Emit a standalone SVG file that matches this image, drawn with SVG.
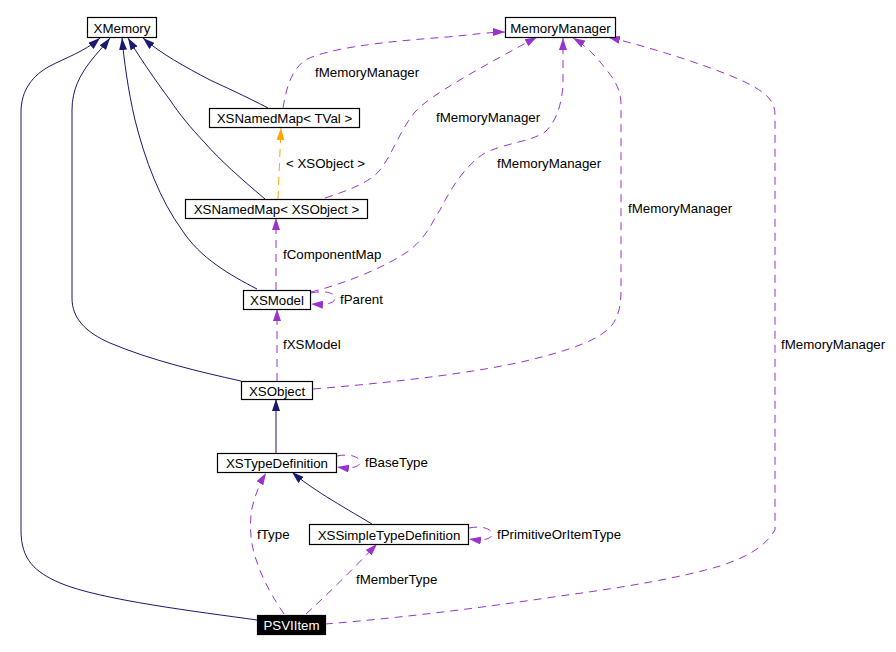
<svg xmlns="http://www.w3.org/2000/svg" width="896" height="652" viewBox="0 0 896 652">
<style>
text{font-family:"Liberation Sans",Arial,sans-serif;font-size:13.3px;fill:#000}
.node rect{fill:#fff;stroke:#000;stroke-width:1.2}
.node text{text-anchor:middle}
#PSVIItem rect{fill:#000}
#PSVIItem text{fill:#fff}
.inh{fill:none;stroke:#191970;stroke-width:1;marker-end:url(#mInh)}
.use{fill:none;stroke:#9a32cd;stroke-width:1;stroke-dasharray:8,6;marker-end:url(#mUse)}
.tpl{fill:none;stroke:#ffa500;stroke-width:1;stroke-dasharray:8,6;marker-end:url(#mTpl)}
</style>
<defs>
<marker id="mInh" viewBox="0 0 12 8" refX="12" refY="4" markerWidth="12" markerHeight="8" markerUnits="userSpaceOnUse" orient="auto"><path d="M0,0 L12,4 L0,8 z" fill="#191970"/></marker>
<marker id="mUse" viewBox="0 0 12 8" refX="12" refY="4" markerWidth="12" markerHeight="8" markerUnits="userSpaceOnUse" orient="auto"><path d="M0,0 L12,4 L0,8 z" fill="#9a32cd"/></marker>
<marker id="mTpl" viewBox="0 0 12 8" refX="12" refY="4" markerWidth="12" markerHeight="8" markerUnits="userSpaceOnUse" orient="auto"><path d="M0,0 L12,4 L0,8 z" fill="#ffa500"/></marker>
</defs>
<rect width="896" height="652" fill="#fff"/>
<g id="edges">
<path class="inh" d="M257,620 C200,612 100,600 60,583 C35,572 21,560 21,530 L21,112 C21,90 33,75 50,66 C65,58 84,52 100,38"/>
<path class="inh" d="M241,381 C200,372 150,360 110,343 C85,332 72,318 72,298 L72,110 C72,90 80,75 90,62 C96,54 104,46 110,38"/>
<path class="inh" d="M257,289 C230,275 200,258 182,230 C160,200 145,160 135,120 C128,90 124,60 122,38"/>
<path class="inh" d="M265,199 C240,178 220,160 205,143 C190,127 180,115 170,100 C155,80 138,55 128,38"/>
<path class="inh" d="M268,108 C245,96 225,87 210,80 C185,67 160,53 143,38"/>
<path class="inh" d="M276,453 L276,399"/>
<path class="inh" d="M372,524 C340,505 310,488 292,472"/>
<path class="use" d="M283,108 C286,90 290,72 305,60 C330,48 380,42 447,37 C470,35 490,32 505,32"/>
<path class="use" d="M325,198 C350,190 370,182 380,170 C392,155 400,130 415,112 C430,95 480,68 537,37"/>
<path class="use" d="M311,292 C340,285 385,268 410,250 C428,235 432,222 440,210 C450,190 465,165 485,153 C505,143 530,142 545,132 C558,120 562,100 563,85 L563,38"/>
<path class="use" d="M313,389 C400,382 480,372 530,360 C570,350 600,340 612,325 C620,315 621,300 621,290 L621,105 C621,90 615,80 605,68 C595,55 585,45 573,38"/>
<path class="use" d="M325,624 C400,618 480,608 560,596 C620,588 680,578 720,566 C750,556 765,546 775,530 L775,115 C775,100 765,92 745,82 C715,68 660,50 608,37"/>
<path class="tpl" d="M278,199 L281,128"/>
<path class="use" d="M276,290 L276,218"/>
<path class="use" d="M277,381 L277,309"/>
<path class="use" d="M311,293 C325,290 335,293 335,298 C335,303 328,305 311,304"/>
<path class="use" d="M337,456 C352,453 360,458 360,462 C360,467 352,469 337,467"/>
<path class="use" d="M469,528 C484,525 492,530 492,534 C492,539 484,541 469,539"/>
<path class="use" d="M284,614 C276,602 265,585 258,565 C250,545 249,525 252,508 C255,495 260,483 266,473"/>
<path class="use" d="M306,614 C330,592 355,567 377,544"/>
<text x="315" y="77">fMemoryManager</text>
<text x="436" y="122">fMemoryManager</text>
<text x="497" y="168">fMemoryManager</text>
<text x="628" y="213">fMemoryManager</text>
<text x="781" y="349">fMemoryManager</text>
<text x="286" y="168">&lt; XSObject &gt;</text>
<text x="283" y="259">fComponentMap</text>
<text x="340" y="304">fParent</text>
<text x="283" y="349">fXSModel</text>
<text x="365" y="467">fBaseType</text>
<text x="257" y="539">fType</text>
<text x="356" y="584">fMemberType</text>
<text x="497" y="539">fPrimitiveOrItemType</text>
</g>
<g id="XMemory" class="node"><rect x="87.5" y="17.5" width="69" height="20"/><text x="122" y="32.5">XMemory</text></g>
<g id="MemoryManager" class="node"><rect x="505.5" y="17.5" width="110" height="20"/><text x="560.5" y="32.5">MemoryManager</text></g>
<g id="XSNamedMapTVal" class="node"><rect x="209.5" y="108.5" width="150" height="19"/><text x="284.5" y="123.3">XSNamedMap&lt; TVal &gt;</text></g>
<g id="XSNamedMapXSObject" class="node"><rect x="185.5" y="199.5" width="182" height="19"/><text x="276.5" y="214.3">XSNamedMap&lt; XSObject &gt;</text></g>
<g id="XSModel" class="node"><rect x="243.5" y="290.5" width="67" height="19"/><text x="277" y="305.3">XSModel</text></g>
<g id="XSObject" class="node"><rect x="241.5" y="381.5" width="71" height="18"/><text x="277" y="395.8">XSObject</text></g>
<g id="XSTypeDefinition" class="node"><rect x="217.5" y="453.5" width="119" height="19"/><text x="277" y="468.3">XSTypeDefinition</text></g>
<g id="XSSimpleTypeDefinition" class="node"><rect x="309.5" y="524.5" width="159" height="20"/><text x="389" y="539.5">XSSimpleTypeDefinition</text></g>
<g id="PSVIItem" class="node"><rect x="257.5" y="615.5" width="68" height="19"/><text x="291.5" y="630">PSVIItem</text></g>
</svg>
